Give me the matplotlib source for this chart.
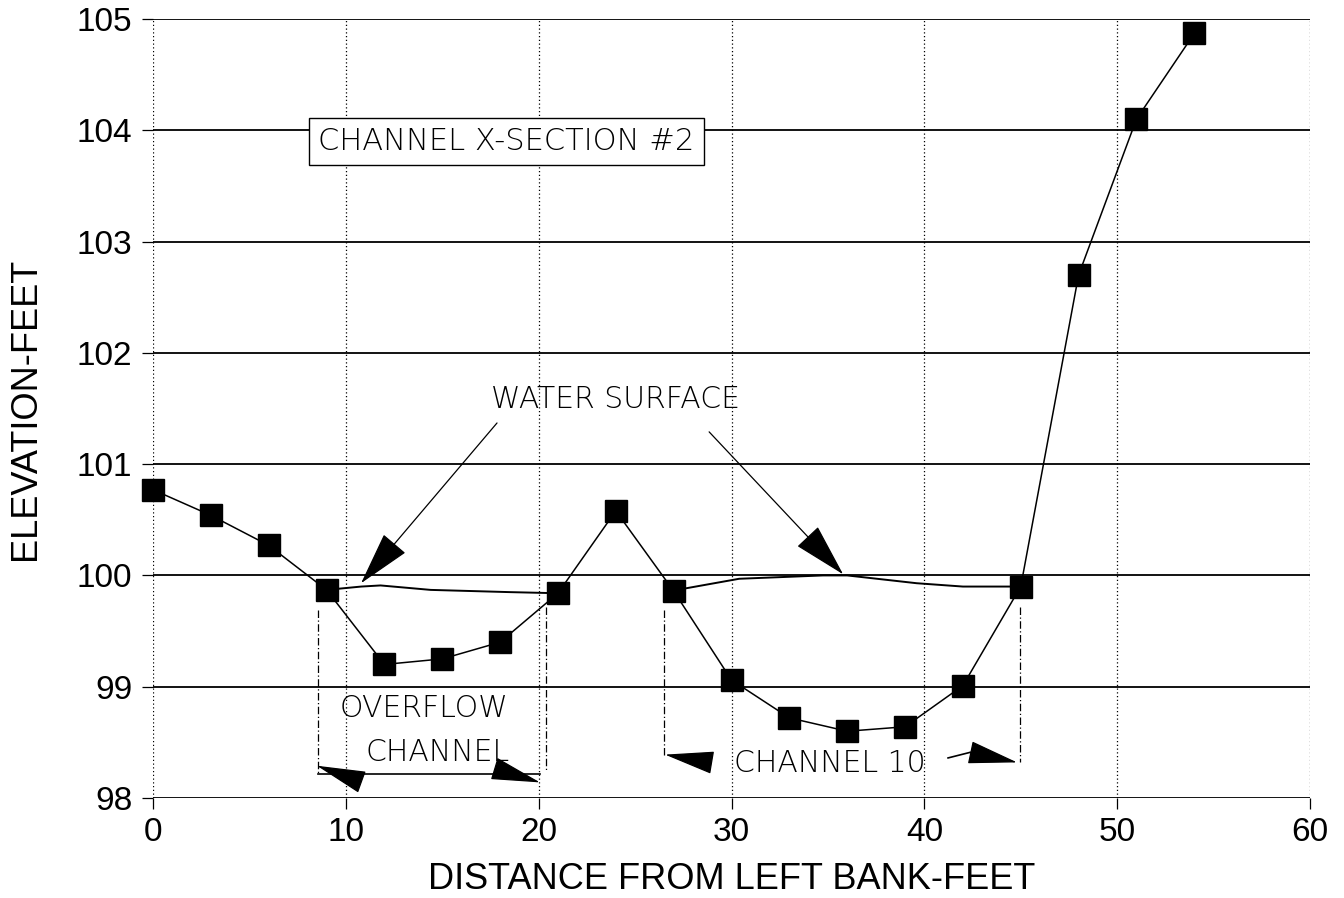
import numpy as np
import matplotlib.pyplot as plt

# channel cross-section survey points
dist = [0, 3, 6, 9, 12, 15, 18, 21, 24, 27, 30, 33, 36, 39, 42, 45, 48, 51, 54]
elev = [100.77, 100.54, 100.27, 99.87, 99.20, 99.25, 99.40, 99.84, 100.58, 99.86,
        99.06, 98.72, 98.60, 98.64, 99.01, 99.90, 102.70, 104.10, 104.87]

# water surface in overflow channel and channel 10
ws1_x = [9, 10.8, 11.8, 14.4, 18.5, 21]
ws1_y = [99.87, 99.90, 99.91, 99.87, 99.85, 99.84]
ws2_x = [27, 27.5, 30.4, 34.75, 36, 39.6, 42, 45]
ws2_y = [99.86, 99.88, 99.97, 100.00, 100.00, 99.93, 99.90, 99.90]

xticks = [0, 10, 20, 30, 40, 50, 60]
yticks = [98, 99, 100, 101, 102, 103, 104, 105]

tick_font = 'Liberation Sans'
note_font = ['DejaVu Sans']
note_size = 21.5

fig = plt.figure(figsize=(13.44, 8.98), dpi=100)
ax = fig.add_axes([153/1344, 1-798/898, (1310-153)/1344, (798-19)/898])

# grid
for y in yticks:
    ax.axhline(y, color='black', lw=1.3, zorder=1)
for x in xticks:
    ax.axvline(x, color='black', lw=0.9, ls=(0, (1, 2)), zorder=1)

ax.plot(dist, elev, color='black', lw=1.1, marker='s', ms=15.5, zorder=3, clip_on=False)
ax.plot(ws1_x, ws1_y, color='black', lw=1.4, zorder=3)
ax.plot(ws2_x, ws2_y, color='black', lw=1.4, zorder=3)

ax.set_xlim(0, 60)
ax.set_ylim(98, 105)
ax.set_xticks(xticks)
ax.set_yticks(yticks)
for s in ax.spines.values():
    s.set_visible(False)
ax.tick_params(length=8, width=0.9, labelsize=24)
ax.tick_params(axis='x', pad=6)
ax.tick_params(axis='y', pad=7)
for lab in ax.get_xticklabels() + ax.get_yticklabels():
    lab.set_family(tick_font)

ax.set_xlabel('DISTANCE FROM LEFT BANK-FEET', fontsize=26, family=tick_font, va='center')
ax.set_ylabel('ELEVATION-FEET', fontsize=26, family=tick_font, va='center')
ax.xaxis.set_label_coords(0.5, -0.105)
ax.yaxis.set_label_coords(-0.1106, 0.5)

# title box
ax.text(18.33, 103.90, 'CHANNEL X-SECTION #2', ha='center', va='center', fontsize=22,
        family=note_font, fontweight='light', zorder=5,
        bbox=dict(boxstyle='square,pad=0.3', fc='white', ec='black', lw=1.0))

# water surface labels and arrows
ax.text(23.96, 101.58, 'WATER SURFACE', ha='center', va='center', fontsize=note_size,
        family=note_font, fontweight='light', zorder=5)
big_head = dict(arrowstyle='-|>,head_length=1.75,head_width=0.47', color='black',
                lw=0.9, mutation_scale=20, shrinkA=0, shrinkB=0)
ax.annotate('', xy=(10.79, 99.93), xytext=(17.84, 101.37), arrowprops=big_head, zorder=4)
ax.annotate('', xy=(35.79, 100.01), xytext=(28.84, 101.29), arrowprops=big_head, zorder=4)

# overflow channel dimension
dim = dict(color='black', lw=0.9, ls=(0, (6, 2, 1, 2)))
ax.plot([8.56, 8.56], [99.69, 98.22], **dim)
ax.plot([20.38, 20.38], [99.72, 98.25], **dim)
ax.plot([8.56, 20.07], [98.22, 98.22], color='black', lw=1.2)
small_head = dict(arrowstyle='-|>,head_length=1.6,head_width=0.37', color='black',
                  lw=0.9, mutation_scale=20, shrinkA=0, shrinkB=0)
ax.annotate('', xy=(8.50, 98.29), xytext=(10.73, 98.15), arrowprops=small_head)
ax.annotate('', xy=(20.07, 98.14), xytext=(17.79, 98.26), arrowprops=small_head)
ax.text(14.05, 98.80, 'OVERFLOW', ha='center', va='center', fontsize=note_size,
        family=note_font, fontweight='light')
ax.text(14.78, 98.41, 'CHANNEL', ha='center', va='center', fontsize=note_size,
        family=note_font, fontweight='light')

# channel 10 dimension
ax.plot([26.5, 26.5], [99.69, 98.37], **dim)
ax.plot([44.96, 44.96], [99.72, 98.32], **dim)
ax.annotate('', xy=(26.55, 98.39), xytext=(28.94, 98.32), arrowprops=small_head)
ax.annotate('', xy=(44.81, 98.32), xytext=(42.37, 98.41), arrowprops=small_head)
ax.plot([41.23, 42.37], [98.36, 98.41], color='black', lw=1.2)
ax.text(35.1, 98.31, 'CHANNEL 10', ha='center', va='center', fontsize=note_size,
        family=note_font, fontweight='light')

fig.savefig('out.png', dpi=100)
